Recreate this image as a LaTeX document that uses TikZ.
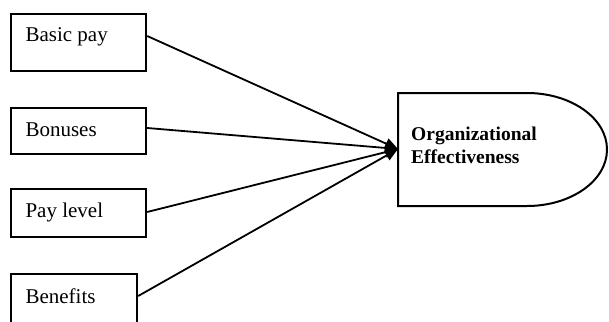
\documentclass[tikz,border=0pt]{standalone}
\usepackage{fontspec}
\setmainfont{Liberation Serif}
\usetikzlibrary{arrows.meta}
\begin{document}
\begin{tikzpicture}[x=1pt,y=-1pt,
  inbox/.style={draw,line width=2.2pt,minimum width=135pt,minimum height=50pt,anchor=north west,inner sep=0pt},
  lbl/.style={anchor=west,font=\fontsize{21}{22}\selectfont},
  conn/.style={line width=1.8pt,-{Triangle[length=13pt,width=11pt]}}]
\useasboundingbox (0,0) rectangle (609,321);
\node[inbox,minimum height=57pt] (bp) at (10,13) {};
\node[lbl] at (22,37) {Basic pay};
\node[inbox,minimum height=46pt] (bo) at (10,107) {};
\node[lbl] at (22,130) {Bonuses};
\node[inbox,minimum height=48pt] (pl) at (10,188) {};
\node[lbl] at (22,212) {Pay level};
\node[inbox,minimum width=126pt,minimum height=60pt] (bf) at (10,273) {};
\node[lbl] at (22,296) {Benefits};
\coordinate (tip) at (398,149);
\draw[line width=2pt] (527,93) -- (398,93) -- (398,206) -- (527,206)
  arc[start angle=90,end angle=-90,x radius=80,y radius=56.5];
\node[anchor=north west,align=left,font=\fontsize{19.5}{23}\selectfont\bfseries,inner sep=0pt] (oe) at (411,127) {Organizational\\Effectiveness};
\draw[conn] (bp.east |- 0,36) -- (tip);
\draw[conn] (bo.east |- 0,128) -- (tip);
\draw[conn] (pl.east |- 0,212) -- (tip);
\draw[conn] (bf.east |- 0,296) -- (tip);
\end{tikzpicture}
\end{document}
